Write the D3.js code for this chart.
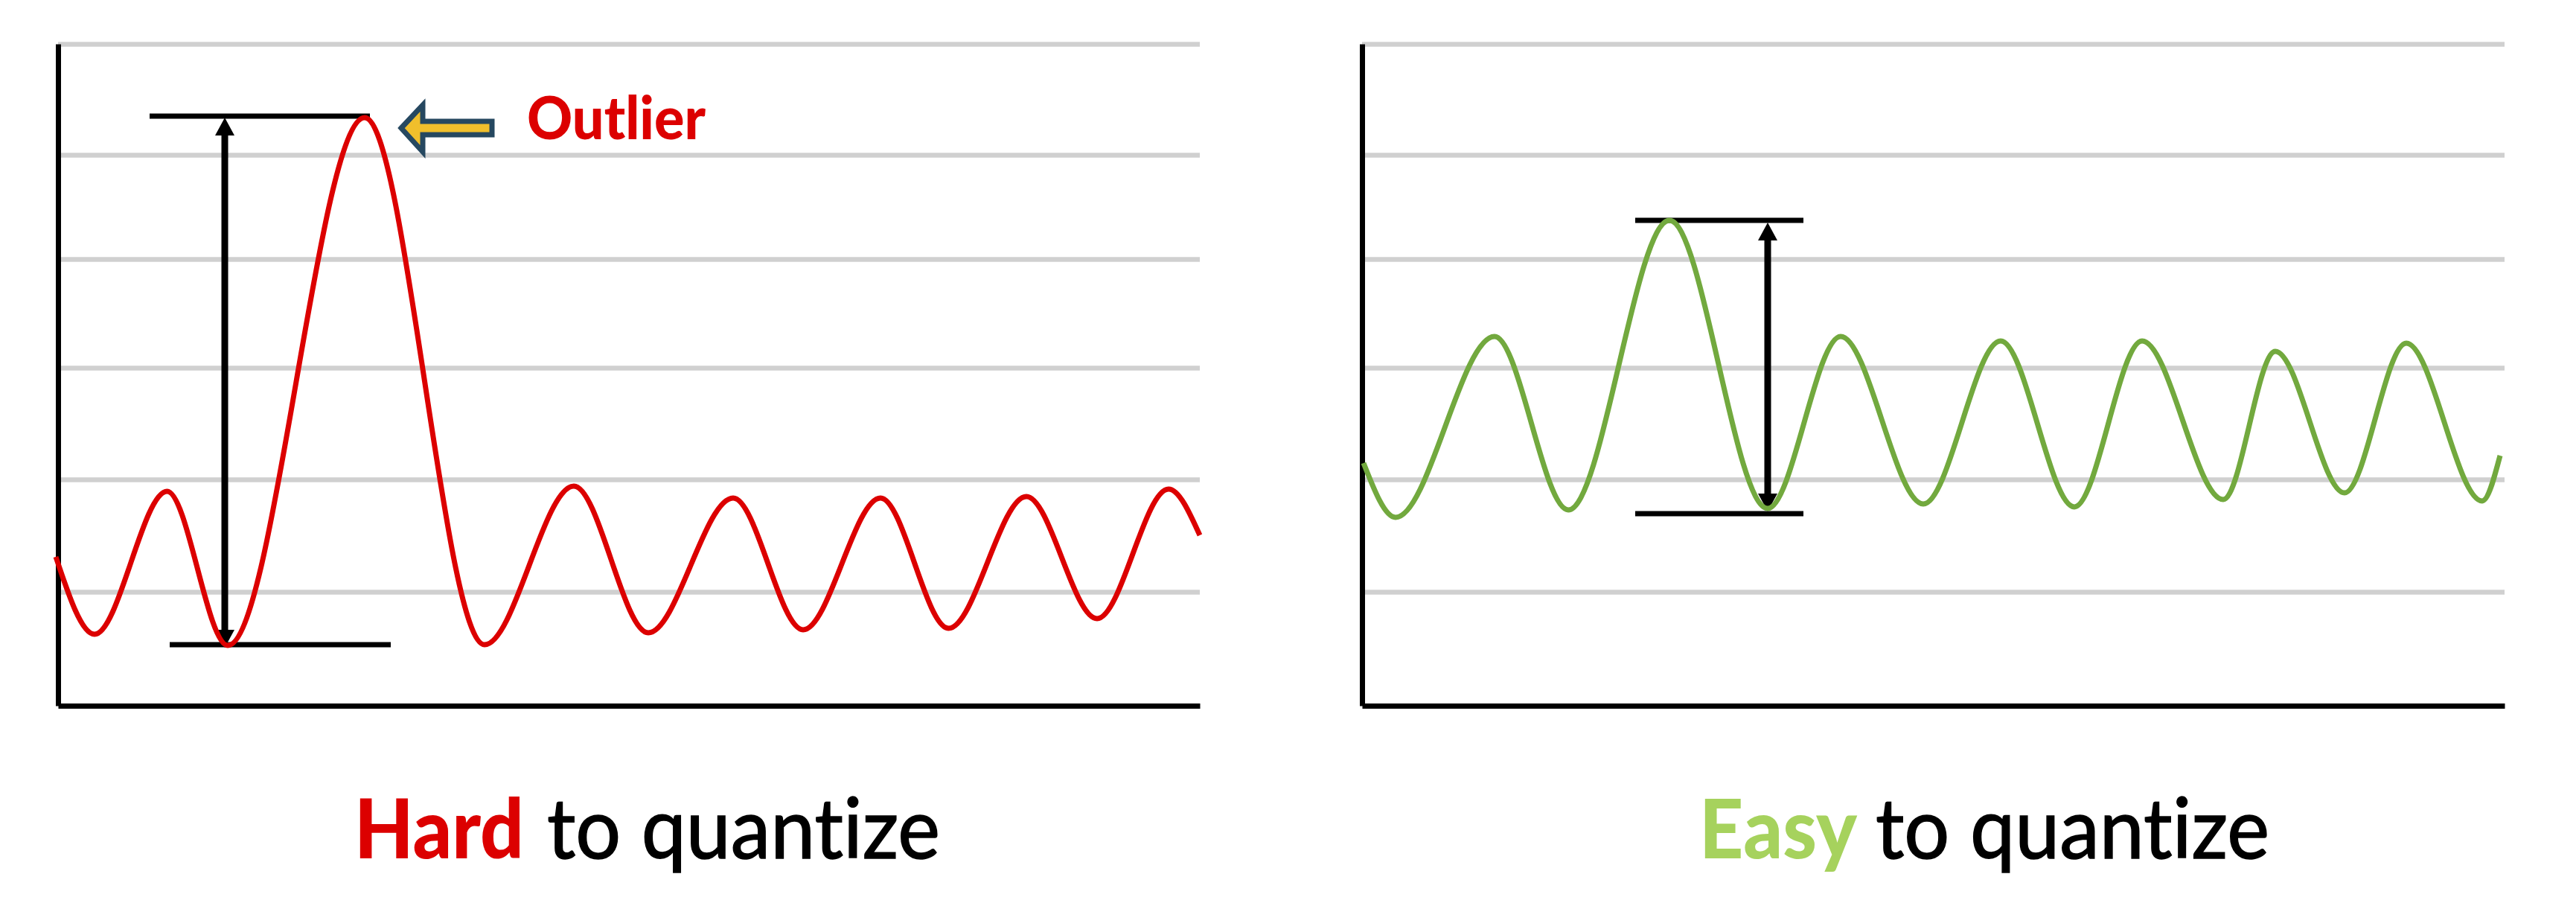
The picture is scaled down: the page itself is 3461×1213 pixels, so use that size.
<!DOCTYPE html>
<html>
<head>
<meta charset="utf-8">
<script src="https://d3js.org/d3.v7.min.js"></script>
<style>
  html, body { margin: 0; padding: 0; background: #fff; }
  svg { display: block; }
  text { font-family: Lato, "Open Sans", sans-serif; font-variant-ligatures: none; }
  .grid .domain { display: none; }
  .grid line { stroke: #d0d0d0; stroke-width: 6.5; }
  .axis line { display: none; }
  .axis path { stroke: #000; stroke-width: 7; fill: none; }
</style>
</head>
<body>
<div id="chart"></div>
<script>
// Values (sample position, amplitude above the x axis)
const gridValues = [153, 304, 454, 600, 740, 889];

// turning points of each wave, plus its two loose ends
const hardT = [-3, 49, 146.5, 228, 412, 573, 693, 793, 907, 1001, 1105, 1196.5, 1301, 1396, 1492, 1534];
const hardV = [200, 96, 288, 81, 790, 82, 295, 98, 279, 102, 279, 104, 281, 117, 291, 229];

const easyT = [2, 45, 178, 277, 413, 545, 643, 754, 858, 957, 1048, 1157, 1227, 1320, 1403, 1505, 1529];
const easyV = [326, 253, 496, 263, 652, 265, 496, 271, 490, 267, 490, 277, 476, 286, 487, 275, 336];

// Range brackets: bar start, bar end, bar amplitude
const hardBars = [[123, 419, 792], [150, 447, 82]];
const easyBars = [[367, 593, 652], [367, 593, 258]];
// Double arrows: position, low tip, high tip
const hardArrow = [224, 78, 790];
const easyArrow = [545, 261, 649];

const svgWidth = 3461;
const svgHeight = 1213;

const svg = d3.select("#chart").append("svg")
  .attr("width", svgWidth)
  .attr("height", svgHeight);

svg.append("defs").append("marker")
  .attr("id", "head")
  .attr("markerUnits", "userSpaceOnUse")
  .attr("markerWidth", 26)
  .attr("markerHeight", 26)
  .attr("viewBox", "0 -13 24 26")
  .attr("refX", 12)
  .attr("refY", 0)
  .attr("orient", "auto-start-reverse")
  .append("path")
  .attr("d", "M0,-13L24,0L0,13Z")
  .attr("fill", "#000");

const plotTop = 59;
const plotBottom = 948;
const yScale = d3.scaleLinear().domain([0, 889]).range([plotBottom, plotTop]);

function drawPanel(left, right, t, v, color, bars, arrow) {
  const xScale = d3.scaleLinear().domain([0, right - left]).range([left, right]);
  const g = svg.append("g");

  g.append("g")
    .attr("class", "grid")
    .attr("transform", `translate(${left}, 0)`)
    .call(d3.axisLeft(yScale).tickValues(gridValues).tickSize(-(right - left)).tickFormat(""));

  g.append("g")
    .attr("class", "axis")
    .attr("transform", `translate(${left}, 0)`)
    .call(d3.axisLeft(yScale).tickSize(0).tickFormat(""));

  g.append("g")
    .attr("class", "axis")
    .attr("transform", `translate(0, ${plotBottom})`)
    .call(d3.axisBottom(xScale).tickSize(0).tickFormat(""));

  g.selectAll(".bar")
    .data(bars)
    .enter()
    .append("line")
    .attr("x1", d => xScale(d[0]))
    .attr("x2", d => xScale(d[1]))
    .attr("y1", d => yScale(d[2]))
    .attr("y2", d => yScale(d[2]))
    .attr("stroke", "#000")
    .attr("stroke-width", 7);

  // arrow shaft stops at the centre of each head
  g.append("line")
    .attr("x1", xScale(arrow[0]))
    .attr("x2", xScale(arrow[0]))
    .attr("y1", yScale(arrow[1]) - 12)
    .attr("y2", yScale(arrow[2]) + 12)
    .attr("stroke", "#000")
    .attr("stroke-width", 9)
    .attr("marker-start", "url(#head)")
    .attr("marker-end", "url(#head)");

  const line = d3.line()
    .x((d, i) => xScale(t[i]))
    .y(d => yScale(d))
    .curve(d3.curveMonotoneX);

  g.append("path")
    .attr("d", line(v))
    .attr("fill", "none")
    .attr("stroke", color)
    .attr("stroke-width", 7);
}

drawPanel(78, 1612, hardT, hardV, "#dc0000", hardBars, hardArrow);
drawPanel(1830, 3365, easyT, easyV, "#72a93e", easyBars, easyArrow);

// Outlier callout
svg.append("path")
  .attr("d", "M539,172L568,141V163H661V181H568V204Z")
  .attr("fill", "#f0bf2c")
  .attr("stroke", "#264860")
  .attr("stroke-width", 7)
  .attr("stroke-linejoin", "miter");

svg.append("text")
  .attr("x", 708)
  .attr("y", 187)
  .attr("font-size", 80)
  .attr("font-weight", 900)
  .attr("fill", "#dc0000")
  .attr("textLength", 240)
  .attr("lengthAdjust", "spacingAndGlyphs")
  .text("Outlier");

// Panel captions
const captionWord = ["Hard", "Easy"];
const captionRest = "to quantize";

function caption(word, color, x1, w1, x2, w2) {
  svg.append("text")
    .attr("x", x1).attr("y", 1153)
    .attr("font-size", 110)
    .attr("font-weight", 900)
    .attr("fill", color)
    .attr("textLength", w1)
    .attr("lengthAdjust", "spacingAndGlyphs")
    .text(word);
  svg.append("text")
    .attr("x", x2).attr("y", 1153)
    .attr("font-size", 112)
    .attr("fill", "#000")
    .attr("stroke", "#000")
    .attr("stroke-width", 1.5)
    .attr("textLength", w2)
    .attr("lengthAdjust", "spacingAndGlyphs")
    .text(captionRest);
}

caption(captionWord[0], "#dc0000", 476, 228, 735, 528);
caption(captionWord[1], "#a6d25d", 2283, 212, 2520, 529);
</script>
</body>
</html>
